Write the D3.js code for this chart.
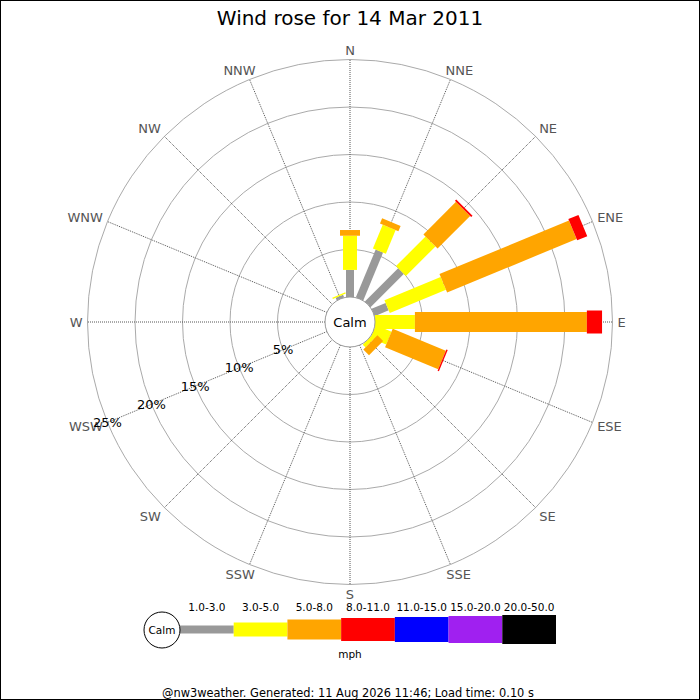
<!DOCTYPE html>
<html>
<head>
<meta charset="utf-8">
<script src="https://cdn.jsdelivr.net/npm/d3@7"></script>
<style>
	body { margin: 0; background: #fff; }
	svg { display: block; font-family: "DejaVu Sans", sans-serif; }
</style>
</head>
<body>
<svg id="rose" width="700" height="700"></svg>
<script>
// compass points, clockwise from north
var directions = ["N","NNE","NE","ENE","E","ESE","SE","SSE","S","SSW","SW","WSW","W","WNW","NW","NNW"];
var speedBins = ["1.0-3.0","3.0-5.0","5.0-8.0","8.0-11.0","11.0-15.0","15.0-20.0","20.0-50.0"];
var ringTicks = [5, 10, 15, 20, 25];

// % of time per direction, one array per speed bin
var bin1to3   = [2.85, 5.45, 4.95, 1.6, 0, 0, 0, 0, 0, 0, 0, 0, 0, 0, 0, 0.3];
var bin3to5   = [3.6, 2.7, 4.4, 6.4, 4.2, 1.8, 0.4, 0, 0, 0, 0, 0, 0, 0, 0, 0.15];
var bin5to8   = [0.6, 0.6, 4.85, 14.75, 18.1, 6.05, 0.85, 0, 0, 0, 0, 0, 0, 0, 0, 0];
var bin8to11  = [0, 0, 0.2, 1.15, 1.6, 0.15, 0, 0, 0, 0, 0, 0, 0, 0, 0, 0];
var bin11to15 = [0, 0, 0, 0, 0, 0, 0, 0, 0, 0, 0, 0, 0, 0, 0, 0];
var bin15to20 = [0, 0, 0, 0, 0, 0, 0, 0, 0, 0, 0, 0, 0, 0, 0, 0];
var bin20to50 = [0, 0, 0, 0, 0, 0, 0, 0, 0, 0, 0, 0, 0, 0, 0, 0];

var series = [bin1to3, bin3to5, bin5to8, bin8to11, bin11to15, bin15to20, bin20to50];

var binColors = ["#999999","#ffff00","#ffa500","#ff0000","#0000ff","#a020f0","#000000"];
var binWidths = [8, 14, 20, 23, 25, 27, 29];

var cx = 350, cy = 322;
var calmR = 25;
var svg = d3.select("#rose");

var rScale = d3.scaleLinear().domain([0, 25]).range([calmR, 262.5]);
var aScale = d3.scaleLinear().domain([0, directions.length]).range([0, 360]);

// where the label box touches its anchor point, going round the box
var boxX = d3.scaleLinear().domain([0, 45, 135, 225, 315, 360]).range([0, 1, 1, -1, -1, 0]);
var boxY = d3.scaleLinear().domain([0, 45, 135, 225, 315, 360]).range([1, 1, -1, -1, 1, 1]);

function polar(r, deg) {
	var a = deg * Math.PI / 180;
	return [cx + r * Math.sin(a), cy - r * Math.cos(a)];
}

function drawGrid() {
	let g = svg.append("g");
	g.selectAll("circle.ring").data(ringTicks)
		.enter().append("circle")
			.attr("class", "ring")
			.attr("cx", cx).attr("cy", cy)
			.attr("r", function(d) {return rScale(d)})
			.attr("fill", "none")
			.attr("stroke", "#aaa");

	g.selectAll("line.spoke").data(directions)
		.enter().append("line")
			.attr("class", "spoke")
			.attr("x1", function(d, i) {return polar(calmR, aScale(i))[0]})
			.attr("y1", function(d, i) {return polar(calmR, aScale(i))[1]})
			.attr("x2", function(d, i) {return polar(rScale(25), aScale(i))[0]})
			.attr("y2", function(d, i) {return polar(rScale(25), aScale(i))[1]})
			.attr("stroke", "#555")
			.attr("stroke-dasharray", "1,1");

	let capH = 9.5;
	let labels = g.selectAll("text.dir").data(directions)
		.enter().append("text")
			.attr("class", "dir")
			.attr("font-size", 13)
			.attr("fill", "#555")
			.text(function(d) {return d});
	labels.each(function(d, i) {
		let w = this.getComputedTextLength();
		let deg = aScale(i);
		let p = polar(rScale(25) + 5, deg);
		d3.select(this)
			.attr("x", p[0] - (1 - boxX(deg)) / 2 * w)
			.attr("y", p[1] + (1 - boxY(deg)) / 2 * capH);
	});
}

function drawBars() {
	directions.forEach(function(dir, i) {
		let g = svg.append("g")
			.attr("transform", "translate(" + cx + "," + cy + ") rotate(" + aScale(i) + ")");
		let total = 0;
		let segs = series.map(function(s, k) {
			let seg = {start: total, end: total + s[i], k: k};
			total += s[i];
			return seg;
		}).filter(function(s) {return s.end > s.start});

		g.selectAll("rect").data(segs)
			.enter().append("rect")
				.attr("x", function(s) {return -binWidths[s.k] / 2})
				.attr("y", function(s) {return -rScale(s.end)})
				.attr("width", function(s) {return binWidths[s.k]})
				.attr("height", function(s) {return rScale(s.end) - rScale(s.start)})
				.attr("fill", function(s) {return binColors[s.k]});
	});

	svg.append("circle")
		.attr("cx", cx).attr("cy", cy).attr("r", calmR)
		.attr("fill", "#fff")
		.attr("stroke", "#999");
	svg.append("text")
		.attr("x", cx).attr("y", cy)
		.attr("dy", "0.35em")
		.attr("text-anchor", "middle")
		.attr("font-size", 13)
		.text("Calm");
}

function drawRingLabels() {
	let ang = aScale(directions.indexOf("WSW"));
	svg.selectAll("text.pct").data(ringTicks)
		.enter().append("text")
			.attr("class", "pct")
			.attr("x", function(d) {return polar(rScale(d), ang)[0]})
			.attr("y", function(d) {return polar(rScale(d), ang)[1]})
			.attr("dy", "0.35em")
			.attr("text-anchor", "middle")
			.attr("font-size", 13)
			.text(function(d) {return d + "%"});
}

function drawLegend() {
	let band = d3.scaleBand().domain(speedBins).range([180, 556]);
	let midY = 629.5;
	let g = svg.append("g");

	g.selectAll("rect").data(speedBins)
		.enter().append("rect")
			.attr("x", function(d) {return band(d)})
			.attr("y", function(d, i) {return midY - binWidths[i] / 2})
			.attr("width", band.bandwidth())
			.attr("height", function(d, i) {return binWidths[i]})
			.attr("fill", function(d, i) {return binColors[i]});

	g.selectAll("text.bin").data(speedBins)
		.enter().append("text")
			.attr("class", "bin")
			.attr("x", function(d) {return band(d) + band.bandwidth() / 2})
			.attr("y", 611)
			.attr("text-anchor", "middle")
			.attr("font-size", 10.5)
			.text(function(d) {return d});

	g.append("circle")
		.attr("cx", 162).attr("cy", 630).attr("r", 18)
		.attr("fill", "#fff").attr("stroke", "#000");
	g.append("text")
		.attr("x", 162).attr("y", 630).attr("dy", "0.35em")
		.attr("text-anchor", "middle").attr("font-size", 10.5)
		.text("Calm");

	g.append("text")
		.attr("x", 350).attr("y", 658)
		.attr("text-anchor", "middle").attr("font-size", 10.5)
		.text("mph");
}

svg.append("rect")
	.attr("x", 0).attr("y", 0).attr("width", 700).attr("height", 700)
	.attr("fill", "#fff");

drawGrid();
drawBars();
drawRingLabels();
drawLegend();

svg.append("text")
	.attr("x", 350).attr("y", 25)
	.attr("text-anchor", "middle")
	.attr("font-size", 20)
	.text("Wind rose for 14 Mar 2011");

svg.append("text")
	.attr("x", 348).attr("y", 697)
	.attr("text-anchor", "middle")
	.attr("font-size", 11.4)
	.text("@nw3weather. Generated: 11 Aug 2026 11:46; Load time: 0.10 s");

svg.append("rect")
	.attr("x", 0.5).attr("y", 0.5).attr("width", 699).attr("height", 699)
	.attr("fill", "none").attr("stroke", "#000");
</script>
</body>
</html>
